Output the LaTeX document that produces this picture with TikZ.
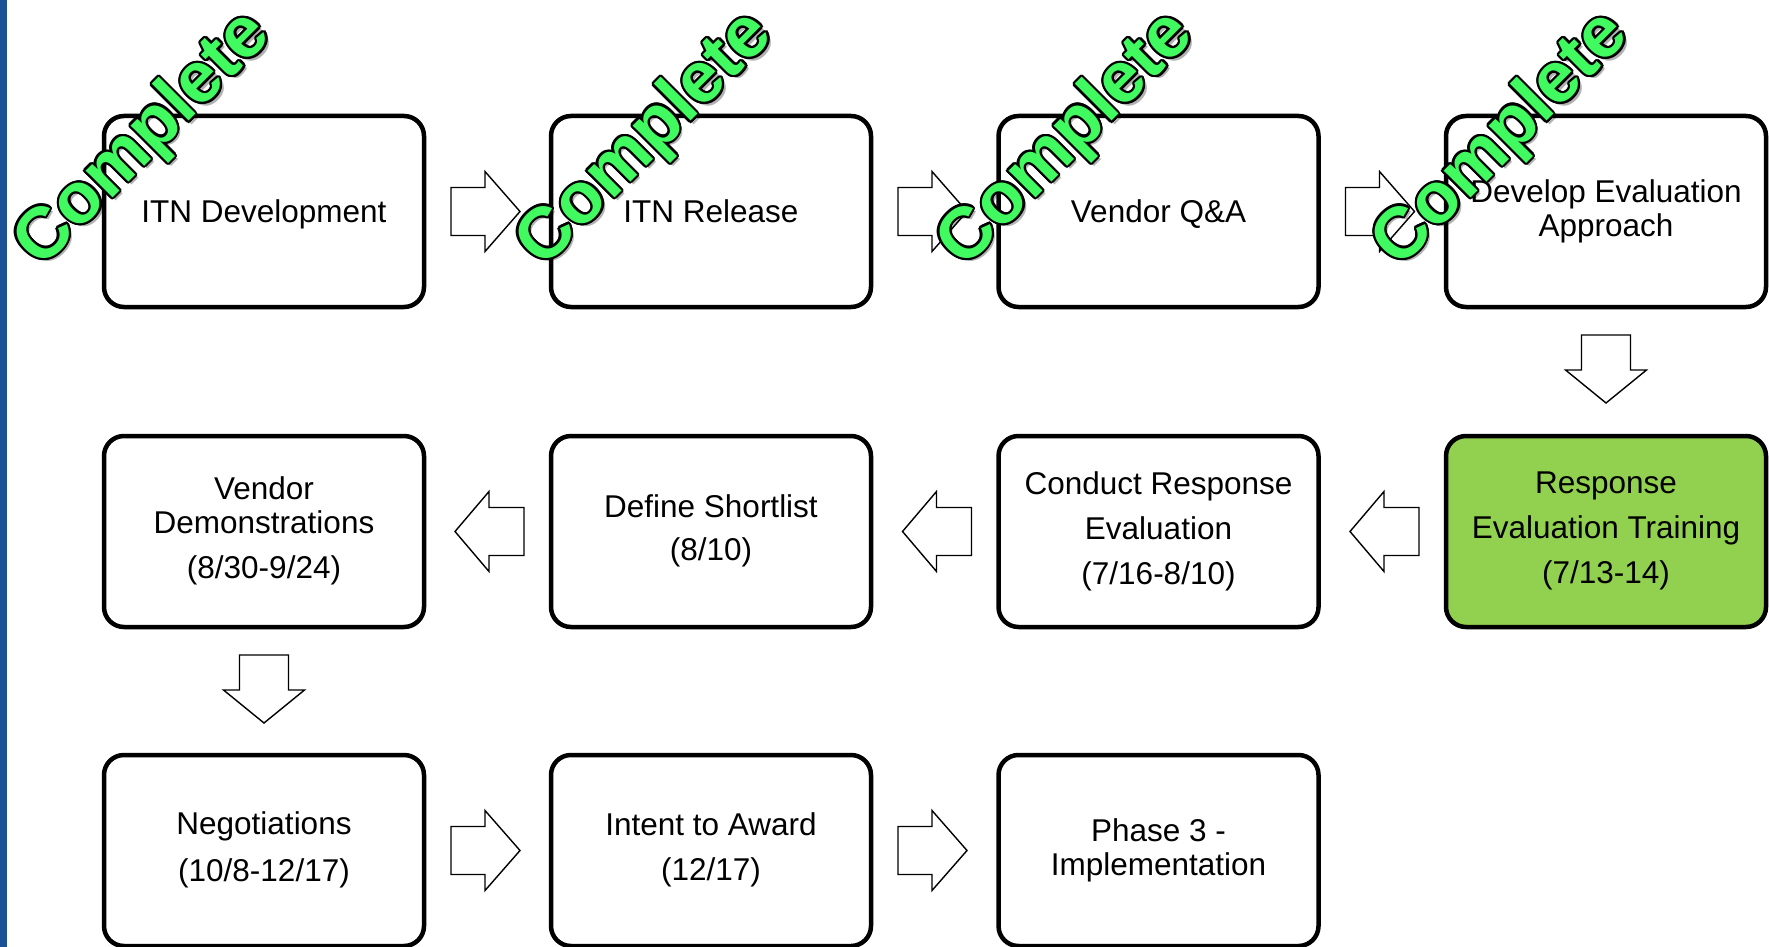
\documentclass[tikz,border=0pt]{standalone}
\usepackage{fontspec}
\setmainfont{Liberation Sans}
\usetikzlibrary{calc}
\definecolor{barblue}{RGB}{27,82,151}
\definecolor{stampgreen}{RGB}{64,250,96}
\definecolor{respgreen}{RGB}{146,208,80}
\begin{document}
\begin{tikzpicture}[x=1pt,y=-1pt,
  box/.style={draw=black, line width=4.5pt, rounded corners=20pt,
    minimum width=320pt, minimum height=191pt, outer sep=0pt, inner sep=0pt,
    align=center, font=\fontsize{31.5}{34}\selectfont, fill=white,
    execute at begin node={\rule{0pt}{28pt}},
    execute at end node={\rule[-7pt]{0pt}{7pt}}},
  blockarrow/.style={draw=black, line width=1.4pt, fill=white, line join=miter},
  stampbase/.style={rotate=45, inner sep=0pt, font=\fontsize{72}{72}\selectfont\bfseries},
  stampshadow/.style={stampbase, text=black, text opacity=0.3},
  stampedge/.style={stampbase, text=black},
  stampfill/.style={stampbase, text=stampgreen}
]
\useasboundingbox (0,0) rectangle (1769,947);
\fill[barblue] (0,0) rectangle (7,947);

% boxes
\node[box] (b1) at (264,211.5) {ITN Development};
\node[box] (b2) at (711,211.5) {ITN Release};
\node[box] (b3) at (1158.5,211.5) {Vendor Q\&A};
\node[box] (b4) at (1606,211.5) {Develop Evaluation\\Approach};
\node[box, fill=respgreen] (b5) at (1606,531.5) {Response\\[11pt]Evaluation Training\\[11pt](7/13-14)};
\node[box] (b6) at (1158.5,531.5) {Conduct Response\\[11pt]Evaluation\\[11pt](7/16-8/10)};
\node[box] (b7) at (711,531.5) {Define Shortlist\\[9pt](8/10)};
\node[box] (b8) at (264,531.5) {Vendor\\Demonstrations\\[11pt](8/30-9/24)};
\node[box] (b9) at (264,850.5) {Negotiations\\[13pt](10/8-12/17)};
\node[box] (b10) at (711,850.5) {Intent to Award\\[11pt](12/17)};
\node[box] (b11) at (1158.5,850.5) {Phase 3 -\\Implementation};

% right block arrows
\foreach \s in {b1,b2,b3,b9,b10}{
  \draw[blockarrow, shift={($(\s.east)+(27,0)$)}]
    (0,-24) -- (34,-24) -- (34,-40) -- (69,0) -- (34,40) -- (34,24) -- (0,24) -- cycle;
}
% left block arrows
\foreach \s in {b5,b6,b7}{
  \draw[blockarrow, shift={($(\s.west)+(-27,0)$)}]
    (0,-24) -- (-35,-24) -- (-35,-40) -- (-69,0) -- (-35,40) -- (-35,24) -- (0,24) -- cycle;
}
% down block arrows
\foreach \s in {b4,b8}{
  \draw[blockarrow, shift={($(\s.south)+(0,28)$)}]
    (-24.5,0) -- (-24.5,35) -- (-40.5,35) -- (0,68) -- (40.5,35) -- (24.5,35) -- (24.5,0) -- cycle;
}

% "Complete" stamps
\foreach \n/\px in {s1/144, s2/646, s3/1067, s4/1502}{
  \node[stampshadow] (\n sh) at (\px+3.5,143.5) {Complete};
  \foreach \a in {0,22.5,...,337.5}{
    \node[stampedge, xshift={2.2*cos(\a)}, yshift={2.2*sin(\a)}] (\n e) at (\px,140) {Complete};
  }
  \node[stampfill] (\n) at (\px,140) {Complete};
}
\end{tikzpicture}
\end{document}
